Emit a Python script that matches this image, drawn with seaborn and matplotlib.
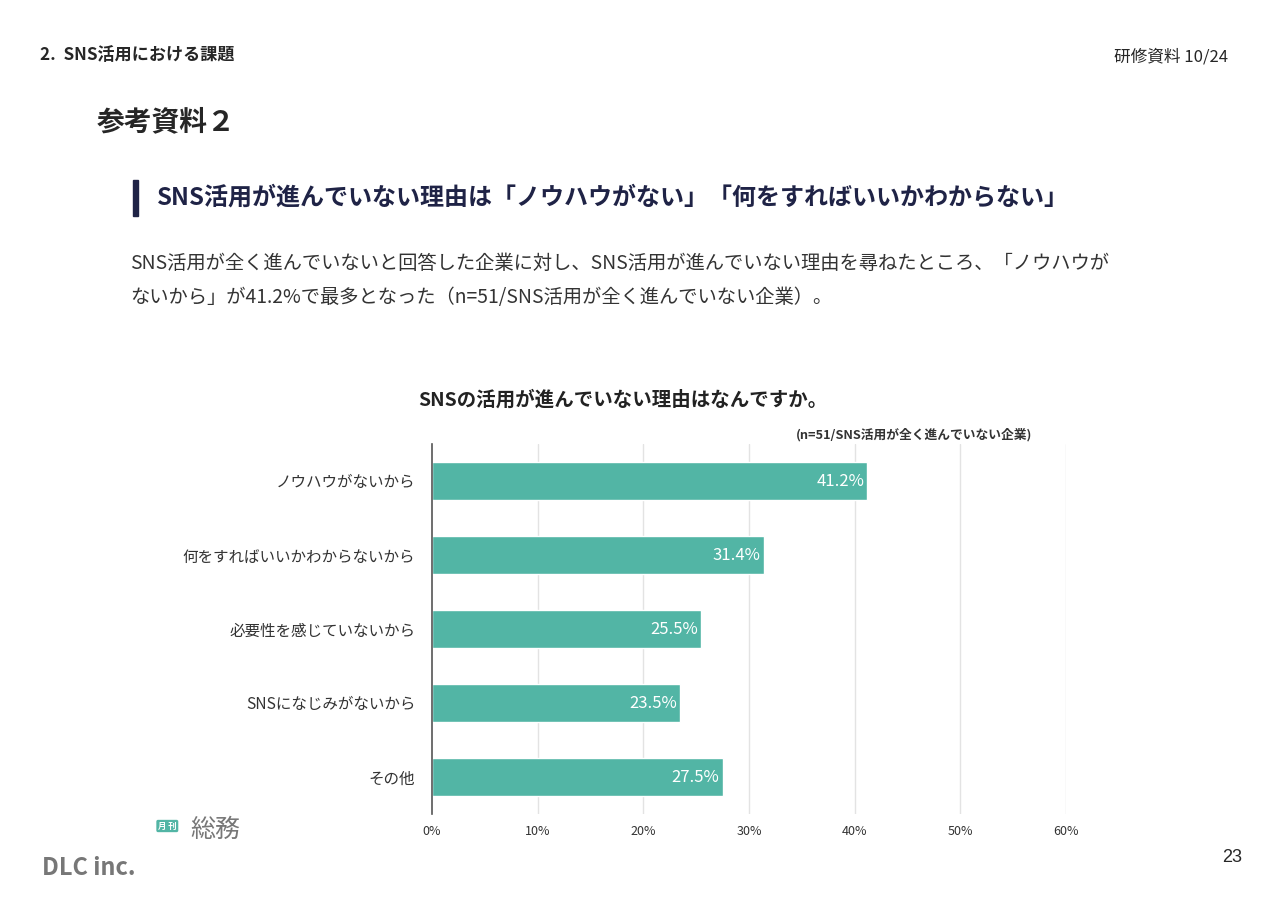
import matplotlib
matplotlib.use("Agg")
import matplotlib.pyplot as plt
import seaborn as sns
import pandas as pd

reasons = ["ノウハウがないから", "何をすればいいかわからないから", "必要性を感じていないから",
           "SNSになじみがないから", "その他"]
shares = [41.2, 31.4, 25.5, 23.5, 27.5]
xticks = [0, 10, 20, 30, 40, 50, 60]

sns.set_theme(style="white")
plt.rcParams['font.family'] = ['Noto Sans CJK JP', 'DejaVu Sans']

df = pd.DataFrame({"reason": reasons, "share": shares})

fig = plt.figure(figsize=(12.8, 9.06), dpi=100)
ax = fig.add_axes([432/1280, 1-814/906, (1066-432)/1280, 370/906])
sns.barplot(data=df, y="reason", x="share", color="#52b5a5", saturation=1,
            width=0.51, ax=ax)
ax.set_xlim(0, 60)
ax.set_ylim(4.5, -0.5)
ax.set_xticks(xticks)
ax.set_xticklabels([f"{t}%" for t in xticks], fontsize=9, color="#333333")
ax.set_xlabel("")
ax.set_ylabel("")
ax.tick_params(axis='y', labelsize=11.2, labelcolor="#333333", length=0, pad=12)
ax.tick_params(axis='x', length=0, pad=8)
for t in xticks[1:]:
    ax.axvline(t, color="#e3e3e3", lw=1, zorder=0)
for s in ["top", "right", "bottom"]:
    ax.spines[s].set_visible(False)
ax.spines["left"].set_color("#555555")
ax.spines["left"].set_linewidth(1.2)
for i, v in enumerate(shares):
    ax.text(v - 0.3, i, f"{v}%", ha="right", va="center", color="white", fontsize=12)

# page texts
fig.text(40/1280, 1-55/906, "2.  SNS活用における課題", fontsize=12.3, weight="bold", va="center")
fig.text(1228/1280, 1-57/906, "研修資料 10/24", fontsize=12, ha="right", va="center")
fig.text(97/1280, 1-122/906, "参考資料２", fontsize=20, weight="bold", va="center")
fig.patches.append(plt.Rectangle((133/1280, 1-216/906), 5/1280, 36/906,
                                 transform=fig.transFigure, color="#1f2346"))
fig.text(157/1280, 1-198/906, "SNS活用が進んでいない理由は「ノウハウがない」「何をすればいいかわからない」",
         fontsize=17.3, weight="bold", color="#1f2346", va="center")
fig.text(130/1280, 1-263/906,
         "SNS活用が全く進んでいないと回答した企業に対し、SNS活用が進んでいない理由を尋ねたところ、「ノウハウが",
         fontsize=13.9, color="#333333", va="center")
fig.text(130/1280, 1-297/906,
         "ないから」が41.2%で最多となった（n=51/SNS活用が全く進んでいない企業）。",
         fontsize=13.9, color="#333333", va="center")
fig.text(418/1280, 1-400/906, "SNSの活用が進んでいない理由はなんですか。",
         fontsize=14, weight="bold", color="#222222", va="center")
fig.text(1032/1280, 1-435/906, "(n=51/SNS活用が全く進んでいない企業)",
         fontsize=9.2, weight="bold", color="#333333", ha="right", va="center")
fig.text(158/1280, 1-826/906, "月 刊", fontsize=6, color="white", weight="bold", va="center",
         bbox=dict(boxstyle="round,pad=0.2", fc="#52b5a5", ec="none"))
fig.text(190/1280, 1-830/906, "総務", fontsize=18, color="#777777", va="center")
fig.text(42/1280, 1-868/906, "DLC inc.", fontsize=17, weight="bold", color="#777777", va="center")
fig.text(1242/1280, 1-857/906, "23", fontsize=13, ha="right", va="center", family="Liberation Sans")

fig.savefig("out.png", dpi=100, facecolor="white")
